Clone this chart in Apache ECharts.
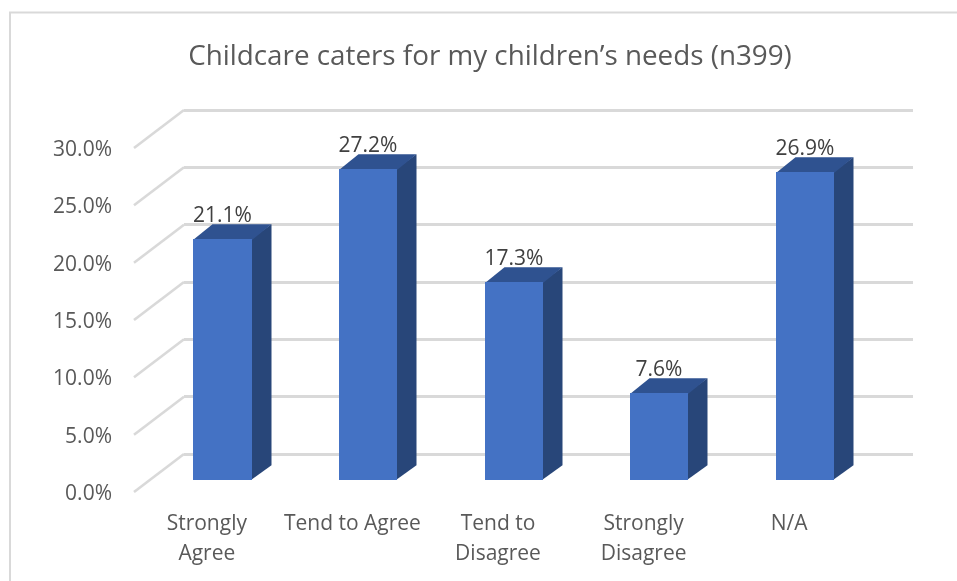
<!DOCTYPE html>
<html>
<head>
<meta charset="utf-8">
<style>html,body{margin:0;padding:0;background:#fff}#c{width:957px;height:581px}</style>
<script src="https://cdn.jsdelivr.net/npm/echarts@6/dist/echarts.min.js"></script>
</head>
<body>
<div id="c"></div>
<script>
const categories = ['Strongly\nAgree', 'Tend to Agree', 'Tend to\nDisagree', 'Strongly\nDisagree', 'N/A'];
const values = [21.1, 27.2, 17.3, 7.6, 26.9];
const ticks = [0, 5, 10, 15, 20, 25, 30];
const titleText = 'Childcare caters for my children\u2019s needs (n399)';

const FONT = '"Open Sans", sans-serif';
const DEPTH = [50, -38];      // floor depth of the 3D box
const BAR_SHIFT = 0.315;      // bars stand this far back into the floor
const BAR_DEPTH = 0.39;
const BAR_WIDTH = 0.4;        // share of the category band

const chart = echarts.init(document.getElementById('c'), null, {renderer: 'canvas'});

function renderBar(params, api) {
  const i = api.value(0), v = api.value(1);
  const base = api.coord([i, 0]), top = api.coord([i, v]);
  const w = api.size([1, 0])[0] * BAR_WIDTH;
  const sx = DEPTH[0] * BAR_SHIFT, sy = DEPTH[1] * BAR_SHIFT;
  const dx = DEPTH[0] * BAR_DEPTH, dy = DEPTH[1] * BAR_DEPTH;
  const l = Math.round(base[0] + sx - w / 2), r = Math.round(base[0] + sx + w / 2);
  const b = Math.round(base[1] + sy), t = Math.round(top[1] + sy + 0.6);
  return {type: 'group', children: [
    {type: 'polygon', shape: {points: [[r - 1, b], [r + dx, b + dy], [r + dx, t + dy], [r - 1, t]]}, style: {fill: '#284679'}},
    {type: 'polygon', shape: {points: [[l, t + 1], [r, t + 1], [r + dx, t + dy], [l + dx, t + dy]]}, style: {fill: '#2F5290'}},
    {type: 'rect', shape: {x: l, y: t, width: r - l, height: b - t}, style: {fill: '#4472C4'}},
    {type: 'text', x: (l + r) / 2, y: t + dy - 8.5, style: {
      text: v.toFixed(1) + '%', fill: '#404040', font: '21px ' + FONT, align: 'center', verticalAlign: 'middle'}}
  ]};
}

function renderWallLink(params, api) {
  const v = api.value(0);
  const zero = api.coord([0, v]);
  const x0 = zero[0] - api.size([1, 0])[0] / 2, y0 = zero[1];
  return {type: 'line', shape: {x1: x0, y1: y0, x2: x0 + DEPTH[0], y2: y0 + DEPTH[1]},
    style: {stroke: '#D9D9D9', lineWidth: 2.6, lineCap: 'butt'}};
}

chart.setOption({
  animation: false,
  backgroundColor: '#fff',
  graphic: [{type: 'rect', silent: true, z: -1,
    shape: {x: 10, y: 12.5, width: 2000, height: 2000},
    style: {fill: '#fff', stroke: '#D9D9D9', lineWidth: 2}}],
  title: {text: titleText, left: 485, top: 38, textAlign: 'center',
    textStyle: {fontFamily: FONT, fontSize: 27.8, fontWeight: 'normal', color: '#595959'}},
  grid: [
    {left: 134, width: 728, top: 148, height: 344},
    {left: 184, width: 729, top: 110, height: 344},
    {left: 134, width: 728, top: 150, height: 344}
  ],
  xAxis: [
    {type: 'category', gridIndex: 0, data: categories,
      axisLine: {show: false}, axisTick: {show: false},
      axisLabel: {interval: 0, margin: 17, lineHeight: 30, color: '#595959', fontFamily: FONT, fontSize: 21}},
    {type: 'category', gridIndex: 1, data: categories, axisLine: {show: false}, axisTick: {show: false}, axisLabel: {show: false}},
    {type: 'category', gridIndex: 2, data: categories, axisLine: {show: false}, axisTick: {show: false}, axisLabel: {show: false}}
  ],
  yAxis: [
    {type: 'value', gridIndex: 0, min: ticks[0], max: ticks[ticks.length - 1], interval: 5,
      axisLine: {show: false}, axisTick: {show: false}, splitLine: {show: false}, axisLabel: {show: false}},
    {type: 'value', gridIndex: 1, min: ticks[0], max: ticks[ticks.length - 1], interval: 5,
      axisLine: {show: false}, axisTick: {show: false}, axisLabel: {show: false},
      splitLine: {show: true, lineStyle: {color: '#D9D9D9', width: 3}}},
    {type: 'value', gridIndex: 2, min: ticks[0], max: ticks[ticks.length - 1], interval: 5,
      axisLine: {show: false}, axisTick: {show: false}, splitLine: {show: false},
      axisLabel: {margin: 22, color: '#595959', fontFamily: FONT, fontSize: 21, formatter: v => v.toFixed(1) + '%'}}
  ],
  series: [
    {type: 'custom', xAxisIndex: 0, yAxisIndex: 0, z: 2, silent: true, clip: false,
      data: ticks.map(t => [t]), encode: {y: 0}, renderItem: renderWallLink},
    {type: 'custom', xAxisIndex: 0, yAxisIndex: 0, z: 3, silent: true, clip: false,
      data: values.map((v, i) => [i, v]), encode: {x: 0, y: 1}, renderItem: renderBar}
  ]
});
</script>
</body>
</html>
